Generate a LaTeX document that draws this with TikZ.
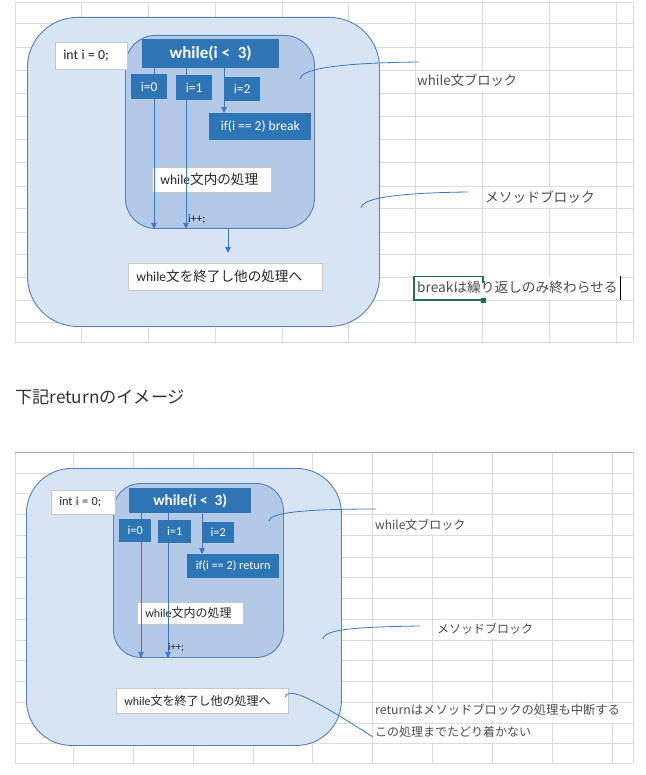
\documentclass[tikz,border=0pt]{standalone}
\usepackage{fontspec}
\setmainfont{Carlito}
\newfontfamily\jp{Noto Sans CJK JP}
\usetikzlibrary{arrows.meta}
\pgfdeclarelayer{back}
\pgfdeclarelayer{mid}
\pgfsetlayers{back,mid,main}
\definecolor{gridc}{HTML}{DCDCDC}
\definecolor{gridd}{HTML}{A6A6A6}
\definecolor{outerf}{HTML}{D7E4F3}
\definecolor{innerf}{HTML}{B3C9E8}
\definecolor{blkd}{HTML}{5580B8}
\definecolor{boxb}{HTML}{2E75B6}
\definecolor{arrc}{HTML}{3D78C6}
\definecolor{txtg}{HTML}{4D4D4D}
\definecolor{wbord}{HTML}{C8C8C8}
\definecolor{xlgreen}{HTML}{217346}
\newcommand\myfs[1]{\fontsize{#1}{#1}\selectfont}
\begin{document}
\begin{tikzpicture}[x=1pt,y=-1pt,
  gridl/.style={draw=gridc, line width=0.9pt},
  outerblk/.style={draw=blkd, fill=outerf, line width=0.9pt, inner sep=0, anchor=north west},
  innerblk/.style={draw=blkd, fill=innerf, line width=0.9pt, inner sep=0, anchor=north west},
  bluebox/.style={fill=boxb, text=white, inner sep=0, anchor=north west},
  whitebox/.style={fill=white, draw=wbord, line width=0.6pt, anchor=north west, inner xsep=8pt, inner ysep=0, align=left, text=black!85},
  arr/.style={draw=arrc, line width=0.8pt, -{Triangle[length=6pt,width=5.5pt]}},
  callout/.style={draw=arrc, line width=0.8pt},
  note/.style={text=txtg, anchor=west, inner sep=0},
  rowmask/.style={fill=white, draw=none}
]
\useasboundingbox (0,0) rectangle (645,775);

% ---------- grids ----------
\begin{pgfonlayer}{back}
\fill[white] (0,0) rectangle (645,775);
\foreach \x in {15,81,148,215,282,348,415,482,549,616,633}
  \draw[gridl] (\x,2) -- (\x,342);
\foreach \y in {2,23,47,70,93,116,139,162,186,208,232,254,277,300,322,342}
  \draw[gridl] (15,\y) -- (633,\y);
\foreach \x in {15,73,133,193,253,312,372,432,492,552,612,633}
  \draw[gridl] (\x,452) -- (\x,763);
\foreach \y in {473,493,514,535,557,577,598,619,640,660,681,702,723,743,763}
  \draw[gridl] (15,\y) -- (633,\y);
\draw[draw=gridd, line width=0.9pt] (15,452) -- (633,452);
% masks where cell text overflows
\fill[rowmask] (416,70.6) rectangle (528,92.4);
\fill[rowmask] (483,186.6) rectangle (600,207.4);
\fill[rowmask] (414,276.6) rectangle (621,299.4);
\fill[rowmask] (373,514.6) rectangle (470,534.4);
\fill[rowmask] (433,619.6) rectangle (538,639.4);
\fill[rowmask] (373,702.6) rectangle (622,722.4);
\fill[rowmask] (373,723.6) rectangle (540,742.4);

% ---------- top blocks ----------
\node[outerblk, rounded corners=50pt, minimum width=352pt, minimum height=309pt] (outerT) at (27,17) {};
\node[innerblk, rounded corners=30pt, minimum width=189pt, minimum height=193pt] (innerT) at (125,35) {};
\node[whitebox, text width=56pt, minimum height=27pt] (initT) at (55,42) {\myfs{13.8}int i = 0;};
\node[whitebox, text width=103pt, minimum height=25pt] (procT) at (152,167) {\myfs{13.6}while{\jp 文内の処理}};
\node[whitebox, text width=178pt, minimum height=27pt] (endT) at (128,263) {\myfs{13.6}while{\jp 文を終了し他の処理へ}};

% ---------- bottom blocks ----------
\node[outerblk, rounded corners=45pt, minimum width=315pt, minimum height=277pt] (outerB) at (26,468) {};
\node[innerblk, rounded corners=27pt, minimum width=170pt, minimum height=174pt] (innerB) at (113,483) {};
\node[whitebox, text width=48pt, minimum height=24pt] (initB) at (51,490) {\myfs{12.3}int i = 0;};
\node[whitebox, text width=90pt, minimum height=22pt] (procB) at (137,602) {\myfs{12}while{\jp 文内の処理}};
\node[whitebox, text width=156pt, minimum height=25pt] (endB) at (116,688) {\myfs{12}while{\jp 文を終了し他の処理へ}};
\end{pgfonlayer}

% ---------- blue boxes (top) ----------
\node[bluebox, minimum width=137pt, minimum height=29pt] (whT) at (142,39) {\bfseries\myfs{17}while(i <~~3)};
\node[bluebox, minimum width=36pt, minimum height=25pt] (i0T) at (131,74) {\myfs{13.5}i=0};
\node[bluebox, minimum width=36pt, minimum height=25pt] (i1T) at (176,75) {\myfs{13.5}i=1};
\node[bluebox, minimum width=36pt, minimum height=24pt] (i2T) at (224,77) {\myfs{13.5}i=2};
\node[bluebox, minimum width=102pt, minimum height=27pt] (ifT) at (209,113) {\myfs{13.5}if(i == 2) break};
\node[anchor=west, inner sep=0, text=black!90] (incT) at (188,219) {\myfs{11.5}i++;};

% ---------- blue boxes (bottom) ----------
\node[bluebox, minimum width=122pt, minimum height=25pt] (whB) at (129,488) {\bfseries\myfs{15.3}while(i <~~3)};
\node[bluebox, minimum width=32pt, minimum height=23pt] (i0B) at (119,519) {\myfs{12.2}i=0};
\node[bluebox, minimum width=33pt, minimum height=23pt] (i1B) at (158,520) {\myfs{12.2}i=1};
\node[bluebox, minimum width=32pt, minimum height=21pt] (i2B) at (202,522) {\myfs{12.2}i=2};
\node[bluebox, minimum width=92pt, minimum height=24pt] (ifB) at (187,554) {\myfs{12.2}if(i == 2) return};
\node[anchor=west, inner sep=0, text=black!90] (incB) at (168,648) {\myfs{10.5}i++;};

% ---------- arrows ----------
\coordinate (a0T) at (154,0);
\coordinate (a1T) at (186,0);
\coordinate (a2T) at (224,0);
\coordinate (a3T) at (228,253);
\coordinate (a0B) at (141,0);
\coordinate (a1B) at (168,0);
\coordinate (a2B) at (202,0);
\begin{pgfonlayer}{mid}
\draw[arr] (whT.south -| a0T) -- (innerT.south -| a0T);
\draw[arr] (whT.south -| a1T) -- (innerT.south -| a1T);
\draw[arr] (whT.south -| a2T) -- (ifT.north -| a2T);
\draw[arr] (innerT.south -| a3T) -- (a3T);
\draw[arr] (whB.south -| a0B) -- (innerB.south -| a0B);
\draw[arr] (whB.south -| a1B) -- (innerB.south -| a1B);
\draw[arr] (whB.south -| a2B) -- (ifB.north -| a2B);

% ---------- callouts ----------
\coordinate (c1s) at (300,79);  \coordinate (c1e) at (419,62);
\coordinate (c2s) at (361,208); \coordinate (c2e) at (468,192);
\coordinate (c3s) at (269,521); \coordinate (c3e) at (376,509);
\coordinate (c4s) at (323,639); \coordinate (c4e) at (420,626);
\coordinate (c5s) at (285,697); \coordinate (c5e) at (373,737);
\draw[callout] (c1s) .. controls (301,70) and (330,63) .. (c1e);
\draw[callout] (c2s) .. controls (362,199) and (390,193) .. (c2e);
\draw[callout] (c3s) .. controls (270,513) and (300,509) .. (c3e);
\draw[callout] (c4s) .. controls (324,630) and (350,627) .. (c4e);
\draw[callout] (c5s) .. controls (288,688) and (305,693) .. (c5e);

% ---------- excel cell selection ----------
\draw[draw=xlgreen, line width=1.5pt] (483,283) -- (483,276.5) -- (414,276.5) -- (414,300) -- (483,300);
\fill[xlgreen] (481,298) rectangle (486,303);
\draw[black, line width=0.9pt] (620,276) -- (620,300);
\end{pgfonlayer}

% ---------- notes ----------
\node[note, font=\jp\myfs{13.3}] (n1) at (417,80) {while文ブロック};
\node[note, font=\jp\myfs{13.7}] (n2) at (485,197) {メソッドブロック};
\node[note, font=\jp\myfs{13.7}] (n3) at (417,287) {breakは繰り返しのみ終わらせる};
\node[note, font=\jp\myfs{17.2}, text=black!80] (title) at (15,397) {下記returnのイメージ};
\node[note, font=\jp\myfs{12}] (n4) at (375,525) {while文ブロック};
\node[note, font=\jp\myfs{12}] (n5) at (437,629) {メソッドブロック};
\node[note, font=\jp\myfs{12.3}] (n6) at (375,710) {returnはメソッドブロックの処理も中断する};
\node[note, font=\jp\myfs{12}] (n7) at (375,732) {この処理までたどり着かない};
\end{tikzpicture}
\end{document}
